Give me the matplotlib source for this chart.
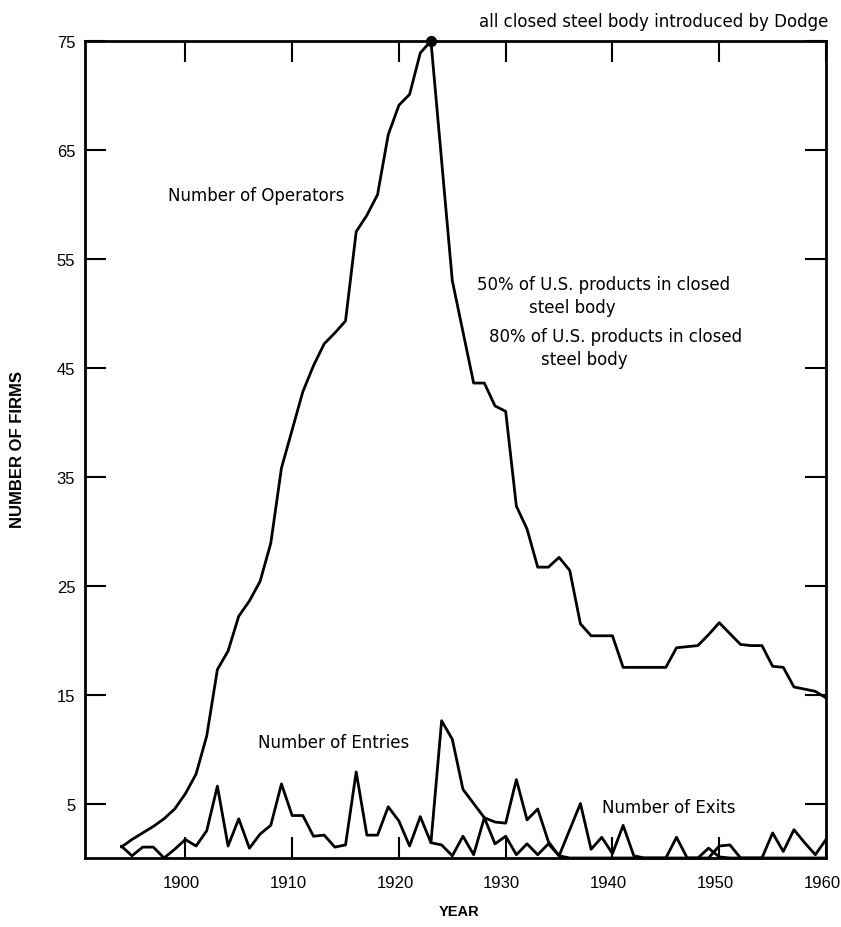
import matplotlib
matplotlib.use("Agg")
import matplotlib.pyplot as plt
import matplotlib.transforms as mtransforms

plt.rcParams['font.family'] = ['DejaVu Sans']

# Annual counts of firms in the industry
years = list(range(1894, 1961))
operators = [
    1.0, 1.7, 2.3, 2.9, 3.6, 4.5, 5.9, 7.7, 11.2, 17.3,      # 1894-1903
    19.0, 22.2, 23.6, 25.4, 28.9, 35.8, 39.3, 42.8, 45.2, 47.2,  # 1904-1913
    48.2, 49.3, 57.5, 59.0, 60.9, 66.4, 69.1, 70.1, 73.9, 75.0,  # 1914-1923
    64.0, 53.0, 48.3, 43.6, 43.6, 41.5, 41.0, 32.3, 30.2, 26.7,  # 1924-1933
    26.7, 27.6, 26.4, 21.5, 20.4, 20.4, 20.4, 17.5, 17.5, 17.5,  # 1934-1943
    17.5, 17.5, 19.3, 19.4, 19.5, 20.5, 21.6, 20.6, 19.6, 19.5,  # 1944-1953
    19.5, 17.6, 17.5, 15.7, 15.5, 15.3, 14.7,                    # 1954-1960
]
entries = [
    1.1, 0.2, 1.0, 1.0, 0.0, 0.8, 1.7, 1.1, 2.5, 6.6,   # 1894-1903
    1.1, 3.6, 0.9, 2.2, 3.0, 6.8, 3.9, 3.9, 2.0, 2.1,   # 1904-1913
    1.0, 1.2, 7.9, 2.1, 2.1, 4.7, 3.4, 1.1, 3.8, 1.4,   # 1914-1923
    1.2, 0.2, 2.0, 0.3, 3.7, 1.3, 2.0, 0.3, 1.3, 0.3,   # 1924-1933
    1.3, 0.2, 0.0, 0.0, 0.0, 0.0, 0.0, 0.0, 0.0, 0.0,   # 1934-1943
    0.0, 0.0, 0.0, 0.0, 0.0, 0.0, 1.1, 1.2, 0.0, 0.0,   # 1944-1953
    0.0, 0.0, 0.0, 0.0, 0.0, 0.0, 0.0,                  # 1954-1960
]
exit_years = list(range(1923, 1961))
exits = [
    1.4, 12.6, 10.9, 6.3, 5.0, 3.7, 3.3, 3.2, 7.2, 3.5,   # 1923-1932
    4.5, 1.5, 0.2, 2.6, 5.0, 0.8, 1.9, 0.4, 3.0, 0.2,     # 1933-1942
    0.0, 0.0, 0.0, 1.9, 0.0, 0.0, 0.9, 0.1, 0.0, 0.0,     # 1943-1952
    0.0, 0.0, 2.3, 0.6, 2.6, 1.4, 0.3, 1.7,               # 1953-1960
]

peak_year, peak_value = 1923, 75.0

x_ticks = list(range(1900, 1961, 10))
y_ticks = list(range(5, 76, 10))

W, H = 841, 928
fig = plt.figure(figsize=(W / 100, H / 100), dpi=100)
ax = fig.add_axes([85 / W, 1 - 859 / H, 741 / W, 817 / H])

line_kw = dict(color='black', lw=2.0, solid_joinstyle='round', solid_capstyle='round')
ax.plot(years, operators, **line_kw)
ax.plot(years, entries, clip_on=False, **line_kw)
ax.plot(exit_years, exits, clip_on=False, **line_kw)
ax.plot([peak_year], [peak_value], 'o', color='black', ms=7, clip_on=False, zorder=5)

ax.set_xlim(1890.6, 1959.8)
ax.set_ylim(0, 75)
ax.set_xticks(x_ticks)
ax.set_yticks(y_ticks)
ax.tick_params(direction='in', length=15, width=1.5, top=True, right=True,
               labelsize=12, colors='black')
ax.tick_params(axis='x', pad=12)
ax.tick_params(axis='y', pad=7)
tick_font = ['Liberation Sans Narrow', 'Liberation Sans', 'DejaVu Sans']
shift = mtransforms.ScaledTranslation(-4 / 100, 0, fig.dpi_scale_trans)
for lab in ax.get_xticklabels():
    lab.set_family(tick_font)
    lab.set_transform(lab.get_transform() + shift)
for lab in ax.get_yticklabels():
    lab.set_family(tick_font)
for s in ax.spines.values():
    s.set_linewidth(2.0)

txt = dict(fontsize=12, color='black', ha='left', va='center')
ax.text(1898.4, 60.9, 'Number of Operators', **txt)
ax.text(1927.3, 52.7, '50% of U.S. products in closed', **txt)
ax.text(1932.2, 50.6, 'steel body', **txt)
ax.text(1928.4, 47.9, '80% of U.S. products in closed', **txt)
ax.text(1933.3, 45.8, 'steel body', **txt)
ax.text(1906.8, 10.65, 'Number of Entries', **txt)
ax.text(1939.0, 4.7, 'Number of Exits', **txt)

fig.text(828 / W, 1 - 22 / H, 'all closed steel body introduced by Dodge',
         fontsize=12, ha='right', va='center')
fig.text(459 / W, 1 - 912 / H, 'YEAR', fontsize=10.5, fontweight='bold',
         family=['Liberation Sans', 'DejaVu Sans'], ha='center', va='center')
fig.text(18 / W, 1 - 450 / H, 'NUMBER OF FIRMS', fontsize=12, fontweight='bold',
         family=['Liberation Sans', 'DejaVu Sans'],
         rotation=90, ha='center', va='center')

fig.savefig('out.png', dpi=100)
